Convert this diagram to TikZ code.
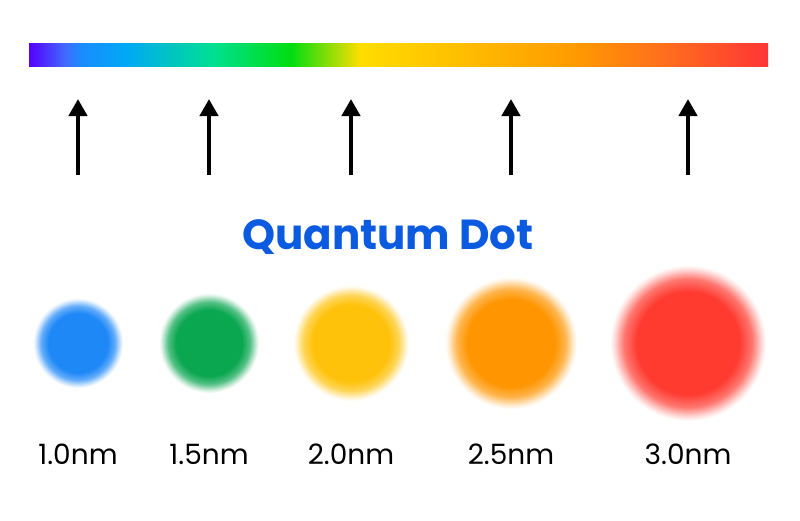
\documentclass[tikz,border=0pt]{standalone}
\usepackage{fontspec}
\setmainfont{Poppins}
\usepackage{xcolor}
\usetikzlibrary{arrows.meta}

\definecolor{titleblue}{HTML}{0B5BE0}
\definecolor{dotblue}{HTML}{1E88F7}
\definecolor{dotgreen}{HTML}{0AA650}
\definecolor{dotyellow}{HTML}{FFC20A}
\definecolor{dotorange}{HTML}{FF9500}
\definecolor{dotred}{HTML}{FF3B30}
% spectrum stops
\definecolor{spA}{HTML}{5500FF}
\definecolor{spB}{HTML}{3F6CFF}
\definecolor{spC}{HTML}{1A8CFF}
\definecolor{spD}{HTML}{00A8F5}
\definecolor{spE}{HTML}{00E090}
\definecolor{spF}{HTML}{00DD10}
\definecolor{spG}{HTML}{FFDD00}
\definecolor{spH}{HTML}{FFBF00}
\definecolor{spI}{HTML}{FF9A00}
\definecolor{spJ}{HTML}{FF6A20}
\definecolor{spK}{HTML}{FF3535}

% the spectrum bar, stops between 25bp and 75bp
\pgfdeclarehorizontalshading{spectrum}{100bp}{%
  color(0bp)=(spA); color(25bp)=(spA);
  color(27.5bp)=(spB); color(28.5bp)=(spC);
  color(31.5bp)=(spD); color(37.5bp)=(spE);
  color(42.7bp)=(spF); color(47.4bp)=(spG);
  color(54bp)=(spH); color(62bp)=(spI);
  color(68.5bp)=(spJ); color(75bp)=(spK);
  color(100bp)=(spK)}
% soft edged dot
\pgfdeclareradialshading[dotc]{dotglow}{\pgfpoint{0bp}{0bp}}{%
  color(0bp)=(dotc); color(16.5bp)=(dotc); color(20.5bp)=(dotc!70);
  color(23.8bp)=(dotc!15); color(25bp)=(dotc!0); color(50bp)=(dotc!0)}

\begin{document}
\begin{tikzpicture}[x=1pt,y=-1pt,>={Triangle[length=17pt,width=18pt]}]
  \useasboundingbox[fill=white] (0,0) rectangle (800,520);
  \shade[shading=spectrum] (29,43) rectangle (768,66);
  \node[titleblue,font=\fontsize{42}{44}\selectfont\bfseries,anchor=base]
    (title) at (388,249) {Quantum Dot};
  \foreach \x/\r/\c/\lab [count=\n] in
    {78/45/dotblue/1.0nm, 209/50/dotgreen/1.5nm, 351/58/dotyellow/2.0nm,
     511/66/dotorange/2.5nm, 688/78/dotred/3.0nm}{
    \coordinate (tail\n) at (\x,175);
    \coordinate (tip\n) at (\x,99);
    \draw[->,line width=4.5pt] (tail\n) -- (tip\n);
    \colorlet{dotc}{\c}
    \shade[shading=dotglow] (\x,343) circle (\r);
    \node[font=\fontsize{28}{30}\selectfont,anchor=base] (size\n) at (\x,464) {\lab};
  }
\end{tikzpicture}
\end{document}
